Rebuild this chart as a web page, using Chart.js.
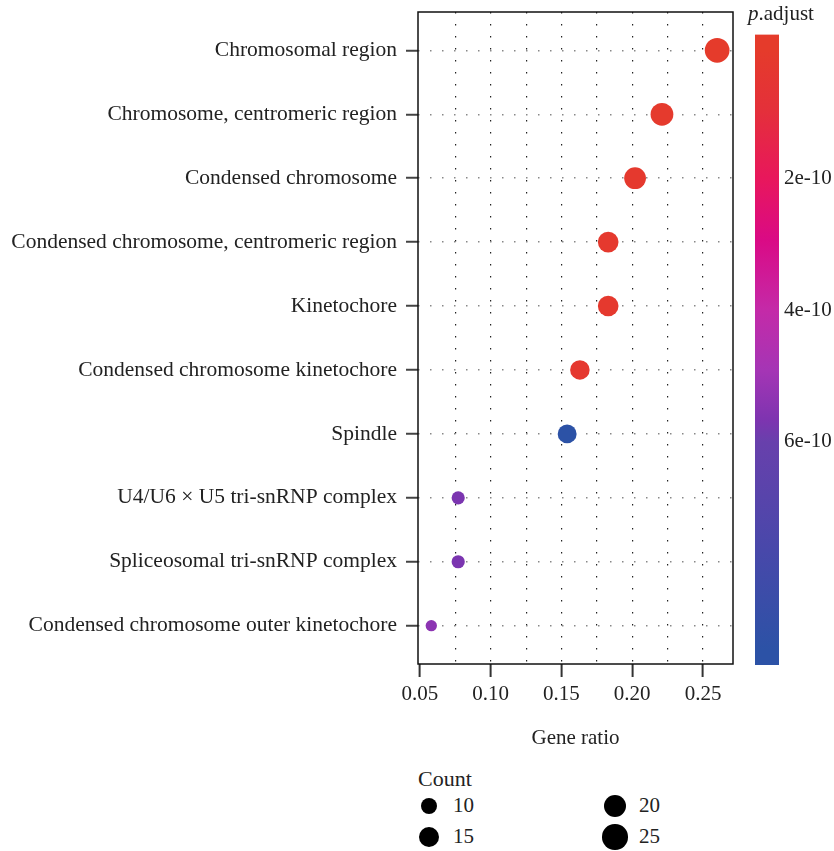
<!DOCTYPE html>
<html>
<head>
<meta charset="utf-8">
<script src="https://cdn.jsdelivr.net/npm/chart.js@4.4.1/dist/chart.umd.min.js"></script>
<style>
  body { margin: 0; background: #fff; width: 834px; height: 851px; position: relative; overflow: hidden;
         font-family: "Liberation Serif", "DejaVu Serif", serif; color: #222; }
  #main { position: absolute; left: 0; top: 0; }
  #cbar { position: absolute; left: 740px; top: 0; }
  .t { position: absolute; font-size: 21px; line-height: 1; white-space: nowrap; }
  .dot { position: absolute; border-radius: 50%; background: #000; }
</style>
</head>
<body>
<canvas id="main" width="740" height="760"></canvas>
<canvas id="cbar" width="94" height="700"></canvas>
<div class="t" style="left:748px;top:3px"><i>p</i>.adjust</div>
<div id="sizeLegend"></div>
<script>
// GO cellular component enrichment
const terms = [
  'Chromosomal region',
  'Chromosome, centromeric region',
  'Condensed chromosome',
  'Condensed chromosome, centromeric region',
  'Kinetochore',
  'Condensed chromosome kinetochore',
  'Spindle',
  'U4/U6 \u00d7 U5 tri-snRNP complex',
  'Spliceosomal tri-snRNP complex',
  'Condensed chromosome outer kinetochore'
];
const geneRatio = [0.260, 0.221, 0.202, 0.183, 0.183, 0.163, 0.154, 0.077, 0.077, 0.058];
const counts = [27, 23, 21, 19, 19, 17, 16, 8, 8, 6];
const pAdjust = [5.7e-12, 1.6e-11, 2.2e-11, 2.6e-11, 2.6e-11, 3.1e-11, 9.15e-10, 5.7e-10, 5.7e-10, 5.4e-10];

const xTicks = [0.05, 0.10, 0.15, 0.20, 0.25];
const xGrid = [0.05, 0.075, 0.10, 0.125, 0.15, 0.175, 0.20, 0.225, 0.25];
const pTicks = [2e-10, 4e-10, 6e-10];
const countBreaks = [10, 15, 20, 25];

// colour ramp for p.adjust (low -> high)
const rampStops = [
  [0.00, '#e53b2b'], [0.10, '#e4303a'], [0.214, '#e8175c'], [0.317, '#da0a85'],
  [0.434, '#c42aa8'], [0.534, '#a535b5'], [0.616, '#7e34b0'], [0.654, '#6840ac'],
  [0.835, '#4848aa'], [1.00, '#2c52a6']
];

const pMin = Math.min(...pAdjust);
const pMax = Math.max(...pAdjust);

function hexToRgb(h) {
  return [parseInt(h.slice(1, 3), 16), parseInt(h.slice(3, 5), 16), parseInt(h.slice(5, 7), 16)];
}

function colorFor(p) {
  const t = Math.max(0, Math.min(1, (p - pMin) / (pMax - pMin)));
  for (let i = 1; i < rampStops.length; i++) {
    const [t1, c1] = rampStops[i];
    const [t0, c0] = rampStops[i - 1];
    if (t <= t1) {
      const f = (t - t0) / (t1 - t0);
      const a = hexToRgb(c0), b = hexToRgb(c1);
      const m = a.map((v, k) => Math.round(v + (b[k] - v) * f));
      return `rgb(${m[0]},${m[1]},${m[2]})`;
    }
  }
  return rampStops[rampStops.length - 1][1];
}

function radiusFor(c) {
  return Math.sqrt(23 * c - 10) / 2;
}

const serif = '"Liberation Serif", "DejaVu Serif", serif';

const framePlugin = {
  id: 'frame',
  afterDatasetsDraw(chart) {
    const { ctx, chartArea: a } = chart;
    ctx.save();
    ctx.strokeStyle = '#111';
    ctx.lineWidth = 1.5;
    ctx.strokeRect(a.left, a.top, a.right - a.left, a.bottom - a.top);
    ctx.restore();
  }
};

new Chart(document.getElementById('main'), {
  type: 'scatter',
  data: {
    datasets: [{
      data: terms.map((t, i) => ({ x: geneRatio[i], y: i })),
      pointRadius: counts.map(radiusFor),
      pointHoverRadius: counts.map(radiusFor),
      pointBackgroundColor: pAdjust.map(colorFor),
      pointBorderWidth: 0
    }]
  },
  options: {
    responsive: false,
    animation: false,
    events: [],
    layout: { autoPadding: false, padding: { top: 12, right: 7, left: 0, bottom: 0 } },
    plugins: { legend: { display: false }, tooltip: { enabled: false } },
    scales: {
      x: {
        type: 'linear',
        min: 0.0486,
        max: 0.2712,
        afterBuildTicks: s => { s.ticks = xGrid.map(v => ({ value: v })); },
        afterFit: s => { s.height = 96; s.paddingLeft = 0; s.paddingRight = 0; },
        ticks: {
          autoSkip: false,
          maxRotation: 0,
          padding: 5,
          color: '#222',
          font: { family: serif, size: 21 },
          callback: v => xTicks.includes(v) ? v.toFixed(2) : ''
        },
        grid: {
          color: c => (c.tick && c.tick.value === 0.05) ? 'rgba(0,0,0,0)' : '#222',
          lineWidth: 1.2,
          tickLength: 13,
          tickWidth: 2,
          tickColor: c => (c.tick && xTicks.includes(c.tick.value)) ? '#333' : 'rgba(0,0,0,0)'
        },
        border: { display: false, dash: [1.5, 10.5] },
        title: {
          display: true,
          text: 'Gene ratio',
          color: '#222',
          font: { family: serif, size: 21 },
          padding: { top: 0, bottom: 9 }
        }
      },
      y: {
        type: 'linear',
        reverse: true,
        min: -0.6,
        max: 9.6,
        afterBuildTicks: s => { s.ticks = terms.map((t, i) => ({ value: i })); },
        afterFit: s => { s.width = 418; s.paddingTop = 0; s.paddingBottom = 0; },
        ticks: {
          autoSkip: false,
          padding: 9,
          color: '#222',
          font: { family: serif, size: 21.5 },
          callback: v => terms[v]
        },
        grid: {
          color: '#888',
          lineWidth: 1.5,
          tickLength: 12,
          tickWidth: 2,
          tickColor: '#444'
        },
        border: { display: false, dash: [1.5, 10.5] }
      }
    }
  },
  plugins: [framePlugin]
});

// colour bar: the scale runs slightly beyond the data range, as the reference does
const cbPad = (pMax - pMin) * 0.025 / 0.95;
const cbMin = pMin - cbPad;
const cbMax = pMax + cbPad;

new Chart(document.getElementById('cbar'), {
  type: 'bar',
  data: {
    labels: [''],
    datasets: [{
      data: [[cbMin, cbMax]],
      barPercentage: 1,
      categoryPercentage: 1,
      borderWidth: 0,
      backgroundColor: c => {
        const chart = c.chart;
        if (!chart.chartArea) return rampStops[0][1];
        const ys = chart.scales.y;
        const g = chart.ctx.createLinearGradient(0, ys.getPixelForValue(pMin), 0, ys.getPixelForValue(pMax));
        rampStops.forEach(([t, col]) => g.addColorStop(t, col));
        return g;
      }
    }]
  },
  options: {
    responsive: false,
    animation: false,
    events: [],
    layout: { autoPadding: false, padding: { top: 34.5, bottom: 35, left: 15, right: 0 } },
    plugins: { legend: { display: false }, tooltip: { enabled: false } },
    scales: {
      x: { display: false },
      y: {
        position: 'right',
        reverse: true,
        min: cbMin,
        max: cbMax,
        afterBuildTicks: s => { s.ticks = pTicks.map(v => ({ value: v })); },
        afterFit: s => { s.width = 55; s.paddingTop = 0; s.paddingBottom = 0; },
        ticks: {
          padding: 5,
          color: '#222',
          font: { family: serif, size: 21 },
          callback: v => v.toExponential(0)
        },
        grid: { display: false, drawTicks: false },
        border: { display: false }
      }
    }
  }
});

// size legend (ggplot fills it column by column)
const legend = document.getElementById('sizeLegend');
const colX = [429, 615];
const rowY = [806, 837];
let html = '<div class="t" style="left:418px;top:768px;font-size:22px">Count</div>';
countBreaks.forEach((c, i) => {
  const cx = colX[Math.floor(i / 2)];
  const cy = rowY[i % 2];
  const r = radiusFor(c) + 0.8;
  html += `<div class="dot" style="left:${cx - r}px;top:${cy - r}px;width:${2 * r}px;height:${2 * r}px"></div>`;
  html += `<div class="t" style="left:${cx + 24}px;top:${cy - 11}px">${c}</div>`;
});
legend.innerHTML = html;
</script>
</body>
</html>
